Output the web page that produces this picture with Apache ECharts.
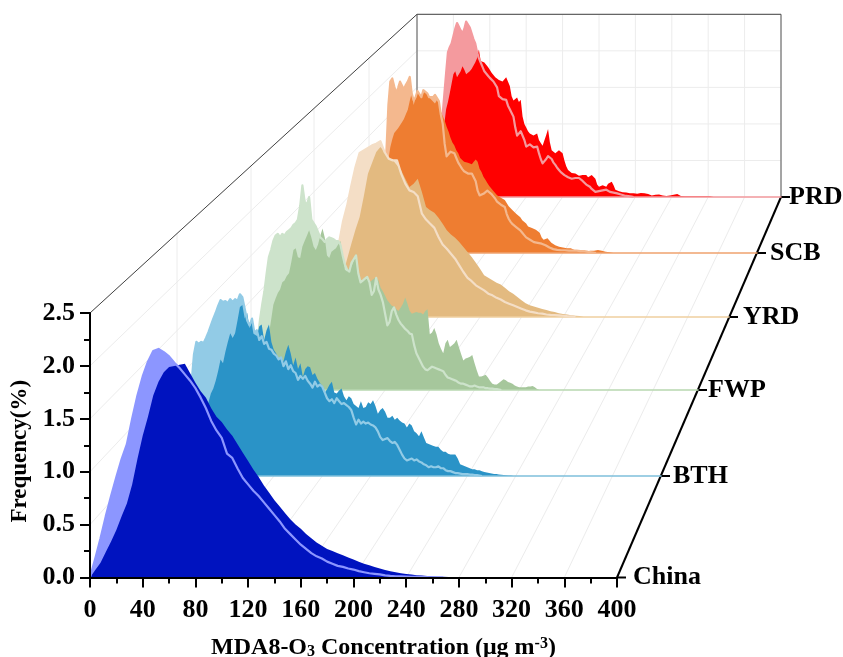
<!DOCTYPE html>
<html>
<head>
<meta charset="utf-8">
<title>MDA8-O3 frequency by region</title>
<script src="https://cdn.jsdelivr.net/npm/echarts@6/dist/echarts.min.js"></script>
<style>
  html, body { margin: 0; padding: 0; background: #fff; }
  #chart { width: 843px; height: 657px; }
</style>
</head>
<body>
<div id="chart"></div>
<script>
// regions, front to back. values are frequency(%), read in bins of regionBins[i] ug/m3 from 0
const regions = ['China', 'BTH', 'FWP', 'YRD', 'SCB', 'PRD'];
const regionBins = [4, 2, 2, 4, 2, 2];
const xTicks = [0, 40, 80, 120, 160, 200, 240, 280, 320, 360, 400];
const yTicks = [0, 0.5, 1, 1.5, 2, 2.5];

const chinaLight = [0,.18,.37,.58,.77,.95,1.12,1.26,1.5,1.72,1.9,2.04,2.14,2.16,2.13,2.09,2.03,1.98,1.92,1.86,1.79,1.7,1.6,1.48,1.39,1.32,1.17,1.13,1.03,.94,.88,.82,.77,.71,.65,.59,.53,.46,.41,.36,.31,.27,.23,.2,.18,.15,.13,.11,.1,.085,.075,.06,.05,.04,.035,.03,.02,.015,.012,.01,.008,.006,.005,.004,.003,.002,.001,0];
const chinaDark = [0,.07,.14,.24,.34,.45,.58,.7,.88,1.12,1.34,1.52,1.72,1.85,1.94,1.99,2,2.01,2.02,1.93,1.84,1.76,1.7,1.6,1.52,1.47,1.4,1.34,1.26,1.18,1.1,1.02,.95,.87,.8,.73,.67,.61,.55,.5,.46,.41,.37,.33,.3,.27,.25,.23,.21,.19,.17,.15,.13,.115,.1,.085,.07,.06,.05,.04,.033,.028,.022,.018,.014,.01,.008,.006,.005,.004,.003,.002,.001,0];
const bthLight = [0,.08,.2,.34,.5,.72,.95,1.25,1.38,1.36,1.38,1.37,1.42,1.48,1.55,1.62,1.68,1.75,1.81,1.79,1.8,1.78,1.82,1.79,1.82,1.8,1.87,1.84,1.72,1.6,1.55,1.62,1.47,1.5,1.4,1.44,1.36,1.38,1.31,1.3,1.26,1.24,1.2,1.22,1.13,1.18,1.1,1.14,1.08,1.06,.99,1.03,1,1.03,.98,.95,.91,.97,.92,.94,.92,.86,.8,.77,.79,.75,.8,.77,.74,.75,.73,.71,.68,.6,.53,.58,.54,.56,.54,.55,.53,.52,.5,.46,.4,.37,.38,.39,.36,.34,.35,.32,.27,.22,.18,.16,.17,.18,.16,.17,.15,.14,.12,.11,.09,.1,.09,.09,.1,.08,.08,.06,.05,.05,.04,.03,.03,.025,.02,.02,.02,.015,.015,.01,.01,.005,0];
const bthDark = [0,.01,.02,.04,.06,.09,.12,.18,.25,.33,.42,.52,.65,.76,.85,.9,.98,1.08,1.2,1.16,1.28,1.38,1.47,1.42,1.47,1.6,1.74,1.76,1.62,1.68,1.52,1.6,1.46,1.44,1.54,1.56,1.4,1.5,1.56,1.38,1.3,1.26,1.2,1.22,1.18,1.28,1.35,1.26,1.14,1.22,1.1,1.16,1.02,1.1,1.13,1.12,1.04,1.06,1,.96,.93,.86,.89,.94,.97,.86,.85,.88,.9,.82,.78,.82,.8,.74,.72,.7,.77,.7,.71,.76,.74,.78,.72,.64,.68,.7,.66,.6,.6,.62,.58,.6,.57,.55,.54,.5,.54,.52,.46,.44,.41,.46,.4,.34,.33,.32,.31,.3,.3,.27,.25,.25,.23,.22,.22,.22,.18,.12,.11,.1,.09,.08,.07,.07,.06,.06,.05,.04,.035,.03,.025,.02,.02,.015,.012,.01,.008,.006,.005,0];
const fwpLight = [0,.12,.3,.55,.78,.95,1.1,1.3,1.48,1.56,1.66,1.72,1.74,1.7,1.74,1.72,1.76,1.78,1.8,1.84,1.86,1.9,2.05,2.28,2.1,2.06,2.15,1.9,1.86,1.82,1.76,1.7,1.68,1.65,1.68,1.7,1.69,1.68,1.66,1.66,1.62,1.5,1.4,1.34,1.32,1.42,1.46,1.5,1.3,1.2,1.22,1.24,1.26,1.2,1.06,1.1,1.25,1.12,1.06,.98,.85,.72,.76,.88,.92,.84,.78,.74,.71,.68,.66,.63,.62,.5,.41,.36,.31,.26,.23,.22,.24,.26,.25,.24,.23,.22,.21,.17,.14,.13,.12,.11,.1,.08,.07,.07,.06,.05,.04,.04,.05,.04,.03,.03,.03,.02,.02,.015,.015,.01,.01,.005,0];
const fwpDark = [0,.01,.03,.06,.1,.18,.3,.45,.62,.78,.95,1.02,1.08,1.12,1.2,1.22,1.27,1.3,1.42,1.56,1.58,1.48,1.47,1.6,1.66,1.72,1.78,1.7,1.6,1.56,1.62,1.72,1.8,1.7,1.5,1.47,1.54,1.56,1.58,1.62,1.66,1.5,1.34,1.32,1.36,1.38,1.44,1.52,1.3,1.2,1.22,1.26,1.24,1.2,1.22,1.24,1.26,1.22,1.14,1.1,1.05,1,.97,.94,.93,.9,.88,.92,.96,1.03,.96,.88,.85,.86,.87,.86,.86,.84,.88,.9,.62,.64,.69,.62,.52,.46,.41,.52,.56,.48,.5,.52,.56,.48,.4,.33,.35,.36,.37,.39,.3,.22,.15,.15,.16,.17,.14,.1,.07,.06,.06,.08,.1,.12,.11,.09,.08,.07,.05,.04,.03,.03,.03,.03,.04,.04,.045,.03,.01,0];
const yrdLight = [0,.1,.2,.33,.47,.65,.88,1.15,1.34,1.58,1.8,1.97,2,2.03,2.06,2.08,2.11,1.98,1.9,1.88,1.88,1.72,1.6,1.52,1.5,1.45,1.24,1.17,1.12,1.07,.96,.87,.82,.76,.7,.62,.54,.47,.43,.38,.35,.32,.28,.26,.23,.21,.18,.16,.14,.12,.1,.08,.065,.055,.045,.04,.03,.025,.024,.02,.015,.01,.008,0];
const yrdDark = [0,.01,.03,.07,.13,.22,.35,.52,.7,.88,1.05,1.2,1.45,1.72,1.85,1.98,2.04,1.98,1.92,1.88,1.82,1.76,1.66,1.56,1.6,1.66,1.5,1.32,1.28,1.25,1.19,1.12,1.04,.99,.95,.9,.84,.78,.72,.65,.58,.5,.47,.44,.41,.39,.35,.31,.28,.24,.2,.165,.14,.125,.11,.095,.085,.07,.06,.045,.036,.03,.02,.015,.012,0];
const scbLight = [0,.04,.1,.16,.25,.36,.5,.72,1,1.32,1.9,2.2,2.24,2.14,2.05,2.12,2.2,2.22,2.1,2.16,2.2,2.26,2.05,1.96,2,2.08,2.08,2,2.09,2.1,2.05,2,1.98,2,2.03,2.03,1.95,1.78,1.66,1.4,1.24,1.27,1.3,1.32,1.28,1.22,1.16,1.12,1.08,1.05,1.03,1.02,1.03,1.02,1.02,.92,.8,.74,.72,.76,.78,.8,.81,.76,.73,.7,.66,.64,.62,.6,.59,.5,.44,.4,.37,.35,.33,.31,.29,.26,.23,.2,.18,.17,.15,.14,.14,.13,.13,.12,.12,.1,.09,.07,.06,.05,.04,.04,.04,.035,.04,.035,.03,.03,.03,.03,.03,.03,.03,.025,.03,.025,.02,.015,.015,.01,.01,0];
const scbDark = [0,.005,.01,.02,.03,.05,.08,.2,.6,.95,1.2,1.36,1.46,1.54,1.56,1.6,1.62,1.68,1.72,1.78,1.84,1.95,2.05,1.9,1.92,2.07,2.06,2,2.05,2.08,2.03,2,1.97,1.98,1.92,1.96,1.92,1.82,1.76,1.7,1.62,1.56,1.48,1.42,1.38,1.32,1.28,1.22,1.2,1.17,1.15,1.16,1.15,1.14,1.17,1.2,1.17,1.08,1.04,.98,.94,.9,.86,.84,.8,.78,.74,.72,.71,.69,.68,.66,.6,.58,.55,.54,.5,.5,.46,.42,.4,.38,.34,.33,.32,.31,.3,.3,.26,.2,.17,.18,.19,.16,.13,.12,.1,.09,.08,.08,.07,.06,.06,.06,.06,.05,.04,.035,.03,.03,.03,.02,.02,.025,.03,.03,.03,.035,.04,.035,.03,.02,.015,.015,.01,.01,0];
const prdLight = [0,.01,.02,.03,.05,.07,.1,.14,.2,.28,.4,.55,.7,.88,1.1,1.4,1.7,1.98,2.05,2.1,2.2,2.3,2.38,2.4,2.28,2.24,2.3,2.4,2.42,2.32,2.24,2.16,2.1,1.98,1.9,1.84,1.78,1.72,1.69,1.66,1.63,1.62,1.58,1.56,1.5,1.38,1.36,1.34,1.34,1.33,1.25,1.2,1.15,1.1,.95,.84,.86,.9,.92,.78,.69,.7,.72,.7,.68,.7,.69,.6,.52,.46,.48,.52,.56,.58,.52,.47,.44,.4,.37,.34,.32,.3,.28,.27,.26,.25,.26,.26,.26,.26,.24,.22,.2,.17,.15,.14,.11,.09,.07,.08,.08,.09,.09,.1,.1,.08,.07,.06,.06,.06,.05,.04,.035,.03,.02,.015,.014,.01,.005,0];
const prdDark = [0,0,0,.005,.01,.015,.02,.03,.04,.06,.08,.12,.2,.38,.6,1,1.2,1.3,1.42,1.55,1.68,1.72,1.64,1.63,1.72,1.79,1.74,1.68,1.67,1.72,1.75,1.76,1.84,1.9,2.02,1.86,1.84,1.84,1.83,1.78,1.74,1.7,1.67,1.64,1.62,1.6,1.6,1.58,1.6,1.64,1.63,1.52,1.38,1.32,1.34,1.36,1.3,1.33,1.1,1,.95,.9,.87,.88,.84,.86,.87,.78,.74,.7,.72,.85,.93,.75,.64,.62,.6,.6,.64,.62,.6,.5,.42,.37,.36,.33,.32,.32,.3,.29,.3,.3,.3,.3,.27,.28,.3,.3,.25,.17,.14,.13,.16,.15,.14,.18,.2,.21,.16,.1,.09,.08,.07,.065,.07,.06,.055,.05,.055,.05,.05,.045,.05,.055,.05,.05,.05,.04,.03,.02,.02,.03,.03,.035,.03,.02,.015,.015,.02,.02,.02,.03,.04,.04,.03,.015,.01,.01,.01,.01,.01,.01,.01,.01,.01,.01,.01,.01,.01,.01,.01,.01,.01,0];

const lightSeries = [chinaLight, bthLight, fwpLight, yrdLight, scbLight, prdLight];
const darkSeries = [chinaDark, bthDark, fwpDark, yrdDark, scbDark, prdDark];

const darkColors = ['#0013bf', '#2a93c7', '#a6c79c', '#e3ba80', '#ee7d31', '#ff0000'];
const lightColors = ['#8c96ff', '#92cbe6', '#cde3cb', '#f4dec6', '#f4b88e', '#f49a9e'];
const baseColors = ['#0013bf', '#7fc0dc', '#b8d8b0', '#f0cfa0', '#efa36f', '#f49a9e'];

// depth planes: where each region's plot sits inside the 3d box
const planeLeft = [90, 177, 251, 314, 369, 417];
const planeWidth = [527, 484, 447, 415, 388, 364];
const planeBase = [577.5, 476, 390, 317, 253, 197];
const nameGaps = [16, 12, 10, 14, 13, 8];
const FRONT_HEIGHT = 264.5;
const FONT = '"Liberation Serif", "Times New Roman", serif';
const INK = '#000';

const chart = echarts.init(document.getElementById('chart'));

const toPairs = (vals, bin) => vals.map((v, i) => [i * bin, v]);
const layerZ = (i) => 10 + (regions.length - i);

const grids = [], xAxes = [], yAxes = [], series = [];

regions.forEach((name, i) => {
    const h = FRONT_HEIGHT * planeWidth[i] / planeWidth[0];
    grids.push({
        left: planeLeft[i], width: planeWidth[i], top: planeBase[i] - h, height: h,
        containLabel: false, outerBoundsMode: 'none'
    });

    xAxes.push({
        type: 'value', gridIndex: i, min: 0, max: 400, interval: 40, z: layerZ(i),
        name: name, nameLocation: 'end', nameGap: nameGaps[i],
        nameTextStyle: { fontFamily: FONT, fontWeight: 'bold', fontSize: 26, color: INK },
        axisLine: { show: true, onZero: false, lineStyle: { color: baseColors[i], width: 1.5 } },
        axisTick: { show: false },
        axisLabel: { show: false },
        minorTick: { show: false },
        splitLine: { show: false }
    });
    yAxes.push({
        type: 'value', gridIndex: i, min: 0, max: 2.5, interval: 0.5, show: false,
        splitLine: { show: false }
    });
});

// the front plane carries the real axes
Object.assign(xAxes[0], {
    z: 30,
    axisLine: { show: true, onZero: false, lineStyle: { color: '#000', width: 2 } },
    axisTick: { show: true, length: 10, lineStyle: { color: '#000', width: 2 } },
    minorTick: { show: true, splitNumber: 2, length: 6, lineStyle: { color: '#000', width: 2 } },
    axisLabel: {
        show: true, margin: 20, fontFamily: FONT, fontWeight: 'bold', fontSize: 26, color: INK,
        formatter: (v) => String(v), showMinLabel: true, showMaxLabel: true
    }
});
const frontName = { fontFamily: FONT, fontWeight: 'bold', fontSize: 24, color: INK };
const xTitle = {
    type: 'value', gridIndex: 0, min: 0, max: 400, interval: 40, position: 'bottom', show: true,
    name: 'MDA8-O{sub|3} Concentration (\u03bcg m{sup|-3})', nameLocation: 'middle', nameGap: 58,
    nameTextStyle: Object.assign({}, frontName, {
        padding: [0, 0, 0, 60],
        rich: {
            sub: Object.assign({}, frontName, { fontSize: 16, padding: [8, 0, 0, 0] }),
            sup: Object.assign({}, frontName, { fontSize: 16, padding: [0, 0, 8, 0] })
        }
    }),
    axisLine: { show: false }, axisTick: { show: false }, axisLabel: { show: false },
    splitLine: { show: false }
};
xAxes.push(xTitle);

Object.assign(yAxes[0], {
    show: true, z: 30,
    name: 'Frequency(%)', nameLocation: 'middle', nameGap: 57, nameRotate: 90,
    nameTextStyle: { fontFamily: FONT, fontWeight: 'bold', fontSize: 23, color: INK, padding: [0, 12, 0, 0] },
    axisLine: { show: true, onZero: false, lineStyle: { color: '#000', width: 2 } },
    axisTick: { show: true, length: 10, lineStyle: { color: '#000', width: 2 } },
    minorTick: { show: true, splitNumber: 2, length: 6, lineStyle: { color: '#000', width: 2 } },
    axisLabel: {
        show: true, margin: 15, fontFamily: FONT, fontWeight: 'bold', fontSize: 26, color: INK,
        formatter: (v) => v.toFixed(1)
    }
});

// back to front so nearer regions cover the far ones
for (let i = regions.length - 1; i >= 0; i--) {
    const common = {
        type: 'line', xAxisIndex: i, yAxisIndex: i, showSymbol: false, symbol: 'none',
        silent: true, animation: false, clip: false, smooth: false,
        z: layerZ(i)
    };
    series.push(Object.assign({}, common, {
        name: regions[i] + ' light', data: toPairs(lightSeries[i], regionBins[i]),
        lineStyle: { width: 0 },
        areaStyle: { color: lightColors[i], opacity: 1, origin: 'start' }
    }));
    series.push(Object.assign({}, common, {
        name: regions[i] + ' dark', data: toPairs(darkSeries[i], regionBins[i]),
        lineStyle: { width: 0 },
        areaStyle: { color: darkColors[i], opacity: 1, origin: 'start' }
    }));
    series.push(Object.assign({}, common, {
        name: regions[i] + ' outline', data: toPairs(lightSeries[i], regionBins[i]),
        lineStyle: { width: 2.2, color: lightColors[i], join: 'round' }
    }));
}

chart.setOption({
    backgroundColor: '#fff',
    animation: false,
    grid: grids,
    xAxis: xAxes,
    yAxis: yAxes,
    series: series
});

// box frame and wall grid, worked out from the planes' own scales
const last = regions.length - 1;
const pt = (i, x, y) => chart.convertToPixel({ gridIndex: i }, [x, y]);
const seg = (a, b, stroke, width) => ({
    type: 'line', silent: true, z: 1,
    shape: { x1: a[0], y1: a[1], x2: b[0], y2: b[1] },
    style: { stroke: stroke, lineWidth: width }
});
const gridColor = '#ececec';
const graphics = [];

xTicks.forEach((v) => {
    graphics.push(seg(pt(0, v, 0), pt(last, v, 0), gridColor, 1));
    graphics.push(seg(pt(last, v, 0), pt(last, v, 2.5), gridColor, 1));
});
yTicks.forEach((v) => {
    graphics.push(seg(pt(0, 0, v), pt(last, 0, v), gridColor, 1));
    graphics.push(seg(pt(last, 0, v), pt(last, 400, v), gridColor, 1));
});
regions.forEach((name, i) => {
    if (i > 0 && i < last) graphics.push(seg(pt(i, 0, 0), pt(i, 0, 2.5), gridColor, 1));
});

// dark frame lines
graphics.push(seg(pt(0, 0, 2.5), pt(last, 0, 2.5), '#444', 1));
graphics.push(seg(pt(last, 0, 2.5), pt(last, 400, 2.5), '#444', 1));
graphics.push(seg(pt(last, 0, 0), pt(last, 0, 2.5), '#555', 1));
graphics.push(seg(pt(last, 400, 0), pt(last, 400, 2.5), '#555', 1));

// depth axis with a tick at each region
graphics.push(seg(pt(0, 400, 0), pt(last, 400, 0), '#000', 2));
regions.forEach((name, i) => {
    const end = pt(i, 400, 0);
    graphics.push(seg(end, [end[0] + 9, end[1]], '#000', 2));
});

chart.setOption({ graphic: graphics });
</script>
</body>
</html>
